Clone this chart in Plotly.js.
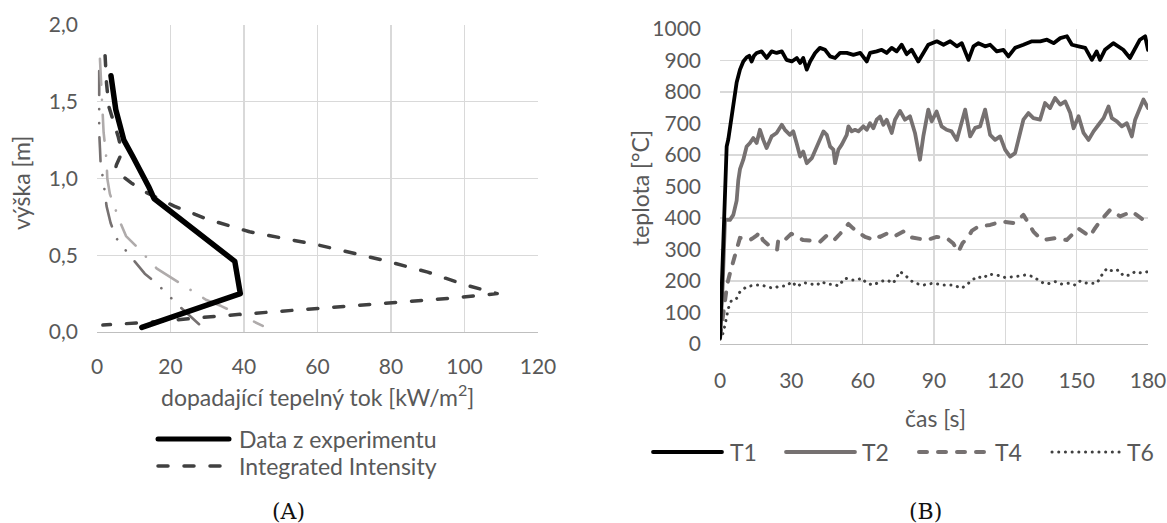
<!DOCTYPE html>
<html>
<head>
<meta charset="utf-8">
<script src="https://cdn.plot.ly/plotly-3.0.1.min.js"></script>
<style>
  body { margin: 0; background: #fff; }
  .js-line, .shapelayer path { stroke-linecap: round; stroke-linejoin: round; }
</style>
</head>
<body>
<div id="chart" style="width:1167px;height:523px;"></div>
<script>
// ---------- (A) heat flux vs height ----------
const expFlux = [3.8, 4.4, 5.1, 6.2, 7.3, 9.6, 12.0, 14.0, 15.5, 26.5, 37.5, 39.0, 12.2];
const expHeight = [1.67, 1.55, 1.45, 1.35, 1.25, 1.15, 1.05, 0.95, 0.87, 0.66, 0.46, 0.25, 0.03];

const intFlux = [2.2, 2.6, 3.2, 4.4, 5.8, 6.8, 5.3, 5.0, 6.7, 9.4, 13.0, 21.0, 30.0, 41.5, 60.5, 77.7, 90.0, 100.3, 108.9, 96.0, 60.0, 33.0, 15.0, 1.6];
const intHeight = [1.80, 1.62, 1.47, 1.38, 1.27, 1.17, 1.09, 1.06, 1.02, 0.97, 0.914, 0.82, 0.735, 0.653, 0.565, 0.469, 0.39, 0.306, 0.25, 0.22, 0.155, 0.104, 0.065, 0.045];

const simAFlux = [0.8, 1.0, 1.5, 1.8, 2.6, 2.8, 3.5, 6.2, 7.9, 10.8, 16.2, 19.8, 23.4, 29.8, 33.8, 37.9, 45.1];
const simAHeight = [1.78, 1.69, 1.49, 1.30, 1.12, 1.00, 0.90, 0.72, 0.625, 0.556, 0.415, 0.36, 0.306, 0.208, 0.169, 0.122, 0.04];

const simBFlux = [0.6, 0.5, 0.6, 0.8, 1.0, 1.7, 2.6, 3.7, 5.3, 8.1, 13.0, 16.2, 19.3, 22.5, 28.0];
const simBHeight = [1.70, 1.50, 1.30, 1.20, 1.09, 0.99, 0.82, 0.71, 0.61, 0.523, 0.38, 0.317, 0.245, 0.165, 0.046];

// ---------- (B) temperature vs time ----------
const t1Time = [0, 1.1, 2.1, 2.8, 3.5, 4.9, 5.5, 7, 8.4, 9.8, 11.2, 12.3, 13.3, 14.3, 15.4, 17.5, 19.6, 21.7, 23.8, 26, 28, 30.2, 32.3, 33.7, 35, 36.5, 37.9, 40, 42, 44.2, 46.3, 48.4, 50.5, 53.3, 56.1, 59, 61.7, 63.1, 65.9, 68, 70.1, 72.2, 74.3, 76.4, 78.5, 80.6, 83.4, 84.8, 87.6, 91.2, 94, 96.8, 99.6, 101.7, 104.5, 106.6, 108.7, 111.5, 113.6, 116.4, 119.2, 121.3, 124.1, 127.6, 131.2, 134.7, 137.5, 140.3, 143.1, 145.9, 148, 150.8, 153.6, 156.4, 158.4, 159.8, 161.9, 165.4, 167.5, 169.6, 172.4, 174.5, 176.6, 178.8, 180];
const t1Temp = [19, 289, 532, 627, 650, 722, 754, 830, 871, 897, 910, 915, 897, 915, 924, 929, 908, 929, 924, 929, 902, 897, 908, 892, 908, 871, 897, 924, 940, 934, 913, 908, 924, 924, 918, 924, 897, 924, 929, 934, 924, 940, 929, 950, 920, 934, 897, 913, 950, 961, 950, 961, 945, 955, 902, 945, 955, 945, 950, 929, 934, 913, 940, 950, 961, 961, 966, 955, 971, 977, 950, 945, 940, 902, 929, 902, 934, 955, 945, 934, 908, 940, 966, 977, 934];

const t2Time = [0, 1.1, 2.1, 4.2, 5.6, 7, 7.7, 8.4, 9.8, 11.2, 12.6, 14, 15.4, 16.8, 18.2, 19.6, 21.7, 23.8, 26, 27.3, 29.4, 30.8, 32.2, 33.7, 35, 36.5, 38.6, 40, 41.4, 43.5, 44.9, 46.3, 47.7, 48.4, 49.8, 51.2, 53.3, 54, 55.4, 56.8, 58.2, 60.3, 61.7, 63.1, 64.5, 65.9, 67.3, 68.7, 70.1, 72.2, 73.6, 75.7, 77.8, 79.9, 82, 84.1, 85.5, 87.6, 89, 91.1, 93.2, 95.3, 97.4, 99.6, 101, 103.1, 105.2, 107.3, 109.4, 111.5, 113.6, 115.7, 117.8, 119.9, 122, 124.1, 126.2, 127.6, 129.7, 131.8, 134.6, 136.7, 138.8, 140.9, 143.1, 145.2, 147.3, 148.7, 150.8, 152.9, 155, 157.1, 159.2, 161.3, 163.4, 164.8, 166.9, 169, 171.1, 173.2, 174.6, 176.7, 178.1, 180];
const t2Temp = [19, 182, 394, 394, 410, 455, 520, 555, 585, 627, 638, 654, 638, 680, 648, 622, 659, 670, 696, 680, 664, 675, 638, 595, 611, 574, 590, 617, 638, 675, 664, 627, 617, 574, 617, 633, 664, 691, 675, 680, 675, 691, 680, 701, 685, 712, 722, 696, 712, 670, 712, 740, 712, 723, 670, 585, 659, 744, 707, 738, 691, 680, 675, 648, 691, 744, 659, 686, 691, 744, 664, 648, 659, 617, 595, 606, 670, 712, 733, 717, 712, 765, 749, 781, 760, 770, 733, 685, 723, 670, 648, 675, 696, 717, 754, 717, 707, 691, 701, 659, 712, 754, 776, 749];

const t4Time = [0, 1.5, 3, 4.2, 5.6, 7, 8.4, 10.5, 12.6, 14, 15.5, 16.8, 18, 21, 24, 24.5, 26.6, 28.6, 30, 32, 35, 38, 42, 45, 48, 50.5, 54, 56, 58.8, 61, 63, 64.5, 67.3, 70, 73, 75.8, 77.1, 79.2, 82, 86.9, 91.1, 95.4, 98, 100.3, 102, 104.5, 106, 108.7, 113.6, 118.5, 123.4, 125.5, 127.6, 129.5, 131.8, 134, 136, 140.9, 145.8, 150.7, 153, 155.6, 157.5, 159.8, 164.1, 168.3, 173.2, 178.1, 180];
const t4Temp = [19, 100, 188, 225, 267, 300, 337, 335, 330, 337, 345, 356, 330, 310, 299, 330, 325, 340, 350, 340, 330, 328, 324, 345, 330, 350, 381, 367, 350, 340, 335, 345, 340, 350, 340, 352, 357, 340, 336, 330, 340, 336, 320, 293, 320, 341, 360, 373, 378, 389, 384, 395, 410, 385, 357, 340, 330, 336, 330, 367, 355, 341, 365, 389, 426, 405, 421, 394, 394];

const t6Time = [0, 0.7, 2.1, 3.5, 4.9, 7, 8.4, 11.2, 14.7, 17.5, 19.6, 22.4, 25.2, 28, 30.2, 32.3, 35.1, 37.9, 40.7, 42.8, 44.9, 47.7, 49.8, 52.6, 55.4, 57.5, 59.6, 61.7, 64.5, 67.3, 70.1, 72.9, 75.7, 78.5, 79.9, 82, 85.5, 89.7, 93.9, 98.1, 101.7, 104.5, 108, 110.8, 112.9, 116.4, 119.9, 124.1, 128.3, 131.9, 134.6, 137.4, 141, 143.8, 146.6, 149.4, 151.5, 154.3, 158.5, 160.6, 162.7, 165.5, 167.6, 169.7, 172.5, 174.6, 177.4, 180];
const t6Temp = [15, 18, 60, 113, 140, 145, 166, 182, 187, 187, 182, 177, 184, 184, 198, 182, 195, 190, 187, 198, 190, 190, 184, 209, 203, 203, 209, 193, 187, 198, 203, 193, 230, 214, 203, 193, 187, 193, 187, 187, 177, 193, 214, 209, 222, 219, 211, 214, 219, 214, 198, 190, 198, 190, 193, 187, 200, 193, 193, 219, 240, 230, 235, 216, 219, 230, 225, 230];

const leftNames = ['Data z experimentu', 'Integrated Intensity'];
const rightNames = ['T1', 'T2', 'T4', 'T6'];
const leftTicks = [0, 20, 40, 60, 80, 100, 120];
const rightTicks = [0, 30, 60, 90, 120, 150, 180];

const W = 1167, H = 523;
const px = v => v / W;
const py = v => 1 - v / H;
const txt = '#595959';
const FONT = 'Lato, "Open Sans", sans-serif';
const TXT_SIZE = 23;

// styles (one per named series)
const styleExp = { color: '#000000', width: 5.5 };
const styleInt = { color: '#404040', width: 3.5, dash: '10px,16px' };
const styleT1 = { color: '#000000', width: 3.8 };
const styleT2 = { color: '#767171', width: 3.8 };
const styleT4 = { color: '#767171', width: 4, dash: '8px,11px' };
const styleT6 = { color: '#404040', width: 3, dash: '0.1px,6.6px' };

const traces = [
  { x: simBFlux, y: simBHeight, xaxis: 'x', yaxis: 'y', mode: 'lines',
    line: { color: '#767171', width: 2.6, dash: '24px,14px,0.1px,14px,0.1px,14px' } },
  { x: simAFlux, y: simAHeight, xaxis: 'x', yaxis: 'y', mode: 'lines',
    line: { color: '#AFABAB', width: 2.6, dash: '26px,15px,0.1px,15px' } },
  { x: intFlux, y: intHeight, xaxis: 'x', yaxis: 'y', mode: 'lines', name: leftNames[1], line: styleInt },
  { x: expFlux, y: expHeight, xaxis: 'x', yaxis: 'y', mode: 'lines', name: leftNames[0], line: styleExp },
  { x: t6Time, y: t6Temp, xaxis: 'x2', yaxis: 'y2', mode: 'lines', name: rightNames[3], line: styleT6 },
  { x: t4Time, y: t4Temp, xaxis: 'x2', yaxis: 'y2', mode: 'lines', name: rightNames[2], line: styleT4 },
  { x: t2Time, y: t2Temp, xaxis: 'x2', yaxis: 'y2', mode: 'lines', name: rightNames[1], line: styleT2 },
  { x: t1Time, y: t1Temp, xaxis: 'x2', yaxis: 'y2', mode: 'lines', name: rightNames[0], line: styleT1 }
];
traces.forEach(t => { t.showlegend = false; t.hoverinfo = 'skip'; });

const axisCommon = {
  showgrid: true, gridcolor: '#D9D9D9', gridwidth: 1.3, zeroline: false,
  ticks: '', tickfont: { family: FONT, size: 21, color: txt }, fixedrange: true
};

// legend built from the series names and styles
const legendItems = [
  { name: leftNames[0], style: styleExp, x0: 158, x1: 229, tx: 237, y: 439 },
  { name: leftNames[1], style: styleInt, x0: 158, x1: 229, tx: 237, y: 466 },
  { name: rightNames[0], style: styleT1, x0: 653, x1: 722, tx: 728, y: 452 },
  { name: rightNames[1], style: styleT2, x0: 786, x1: 855, tx: 860, y: 452 },
  { name: rightNames[2], style: styleT4, x0: 919, x1: 987, tx: 993, y: 452 },
  { name: rightNames[3], style: styleT6, x0: 1052, x1: 1120, tx: 1125, y: 452 }
];
const shapes = legendItems.map(it => ({
  type: 'line', xref: 'paper', yref: 'paper',
  x0: px(it.x0), x1: px(it.x1), y0: py(it.y), y1: py(it.y),
  line: Object.assign({}, it.style, { width: Math.min(it.style.width, 5) })
}));
const legendLabels = legendItems.map(it => ({
  text: it.name, x: px(it.tx), y: py(it.y), xref: 'paper', yref: 'paper',
  showarrow: false, xanchor: 'left', yanchor: 'middle',
  font: { family: FONT, size: TXT_SIZE, color: txt }
}));

const layout = {
  width: W, height: H,
  margin: { l: 0, r: 0, t: 0, b: 0 },
  paper_bgcolor: '#ffffff', plot_bgcolor: '#ffffff',
  separators: ', ',
  font: { family: FONT, size: 21, color: txt },
  showlegend: false,
  xaxis: Object.assign({}, axisCommon, {
    domain: [px(97), px(538)], range: [0, 120], tickvals: leftTicks, anchor: 'y',
    showline: true, linecolor: '#BFBFBF', linewidth: 1.3, ticklabelstandoff: 15
  }),
  yaxis: Object.assign({}, axisCommon, {
    domain: [py(332), py(25)], range: [0, 2], dtick: 0.5, tick0: 0, tickformat: '.1f', anchor: 'x',
    showline: false, ticklabelstandoff: 18
  }),
  xaxis2: Object.assign({}, axisCommon, {
    domain: [px(720), px(1148)], range: [0, 180], tickvals: rightTicks, anchor: 'y2',
    showline: true, linecolor: '#BFBFBF', linewidth: 1.3, ticklabelstandoff: 17
  }),
  yaxis2: Object.assign({}, axisCommon, {
    domain: [py(344), py(29)], range: [0, 1000], dtick: 100, tick0: 0, anchor: 'x2',
    showline: false, ticklabelstandoff: 18
  }),
  shapes: shapes,
  annotations: legendLabels.concat([
    { text: 'dopadající tepelný tok [kW/m<sup>2</sup>]', x: px(318), y: py(395), xref: 'paper', yref: 'paper',
      showarrow: false, xanchor: 'center', yanchor: 'middle', font: { family: FONT, size: TXT_SIZE, color: txt } },
    { text: 'výška [m]', x: px(21), y: py(183), xref: 'paper', yref: 'paper', textangle: -90,
      showarrow: false, xanchor: 'center', yanchor: 'middle', font: { family: FONT, size: TXT_SIZE, color: txt } },
    { text: 'teplota [°C]', x: px(640), y: py(188), xref: 'paper', yref: 'paper', textangle: -90,
      showarrow: false, xanchor: 'center', yanchor: 'middle', font: { family: FONT, size: TXT_SIZE, color: txt } },
    { text: 'čas [s]', x: px(935), y: py(418), xref: 'paper', yref: 'paper',
      showarrow: false, xanchor: 'center', yanchor: 'middle', font: { family: FONT, size: TXT_SIZE, color: txt } },
    { text: '(A)', x: px(288), y: py(511), xref: 'paper', yref: 'paper',
      showarrow: false, xanchor: 'center', yanchor: 'middle', font: { family: '"DejaVu Serif", serif', size: 22, color: '#111111' } },
    { text: '(B)', x: px(925), y: py(511), xref: 'paper', yref: 'paper',
      showarrow: false, xanchor: 'center', yanchor: 'middle', font: { family: '"DejaVu Serif", serif', size: 22, color: '#111111' } }
  ])
};

Plotly.newPlot('chart', traces, layout, { staticPlot: true, displayModeBar: false });
</script>
</body>
</html>
